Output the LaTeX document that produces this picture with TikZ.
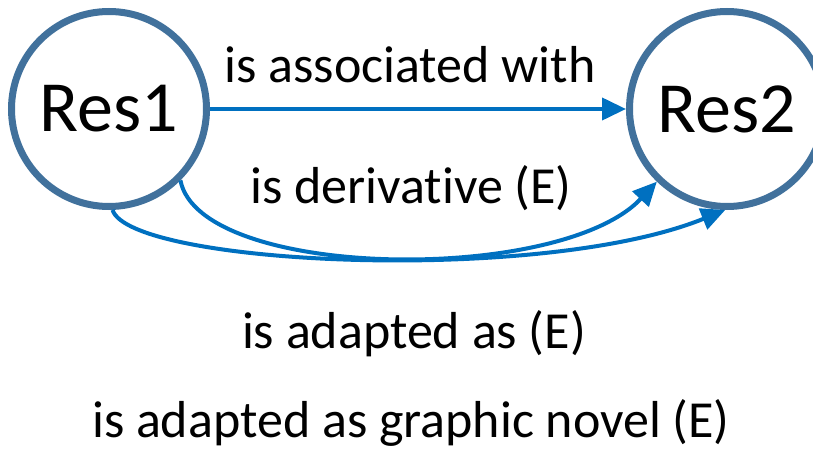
\documentclass[tikz,border=0pt]{standalone}
\usepackage{fontspec}
\setmainfont{Carlito}[Ligatures={NoCommon}]
\usepackage{tikz}
\usetikzlibrary{positioning, arrows.meta}
\definecolor{resRing}{RGB}{65, 113, 156}
\definecolor{relBlue}{RGB}{0, 112, 192}
\tikzset{
    resource/.style={
        circle,
        draw=resRing,
        line width=7pt,
        fill=white,
        minimum size=195pt,
        inner sep=0pt,
        font=\fontsize{72}{80}\selectfont
    },
    relation/.style={
        -{Triangle[length=24pt,width=22pt]},
        line width=4pt,
        color=relBlue
    },
    rellabel/.style={
        font=\fontsize{52}{60}\selectfont,
        anchor=base,
        inner sep=0pt
    }
}

\begin{document}
\begin{tikzpicture}[x=1pt, y=1pt]
  \useasboundingbox (0,0) rectangle (813,456);

  % Resources
  \node[resource] (res1) at (109,347) {Res1};
  \node[resource] (res2) at (727,347) {Res2};

  % Relations
  \draw[relation] (res1.east) -- (res2.west);
  \draw[relation] (res1.-45) .. controls (200,176) and (560,171) .. (res2.226);
  \draw[relation] (res1.-88) .. controls (130,191) and (540,171) .. (res2.-91);

  % Labels
  \node[rellabel] (lblassoc) at (410,373) {is associated with};
  \node[rellabel] (lblderiv) at (411,253) {is derivative (E)};
  \node[rellabel] (lbladapt) at (414,108) {is adapted as (E)};
  \node[rellabel] (lblnovel) at (411,19) {is adapted as graphic novel (E)};
\end{tikzpicture}
\end{document}
